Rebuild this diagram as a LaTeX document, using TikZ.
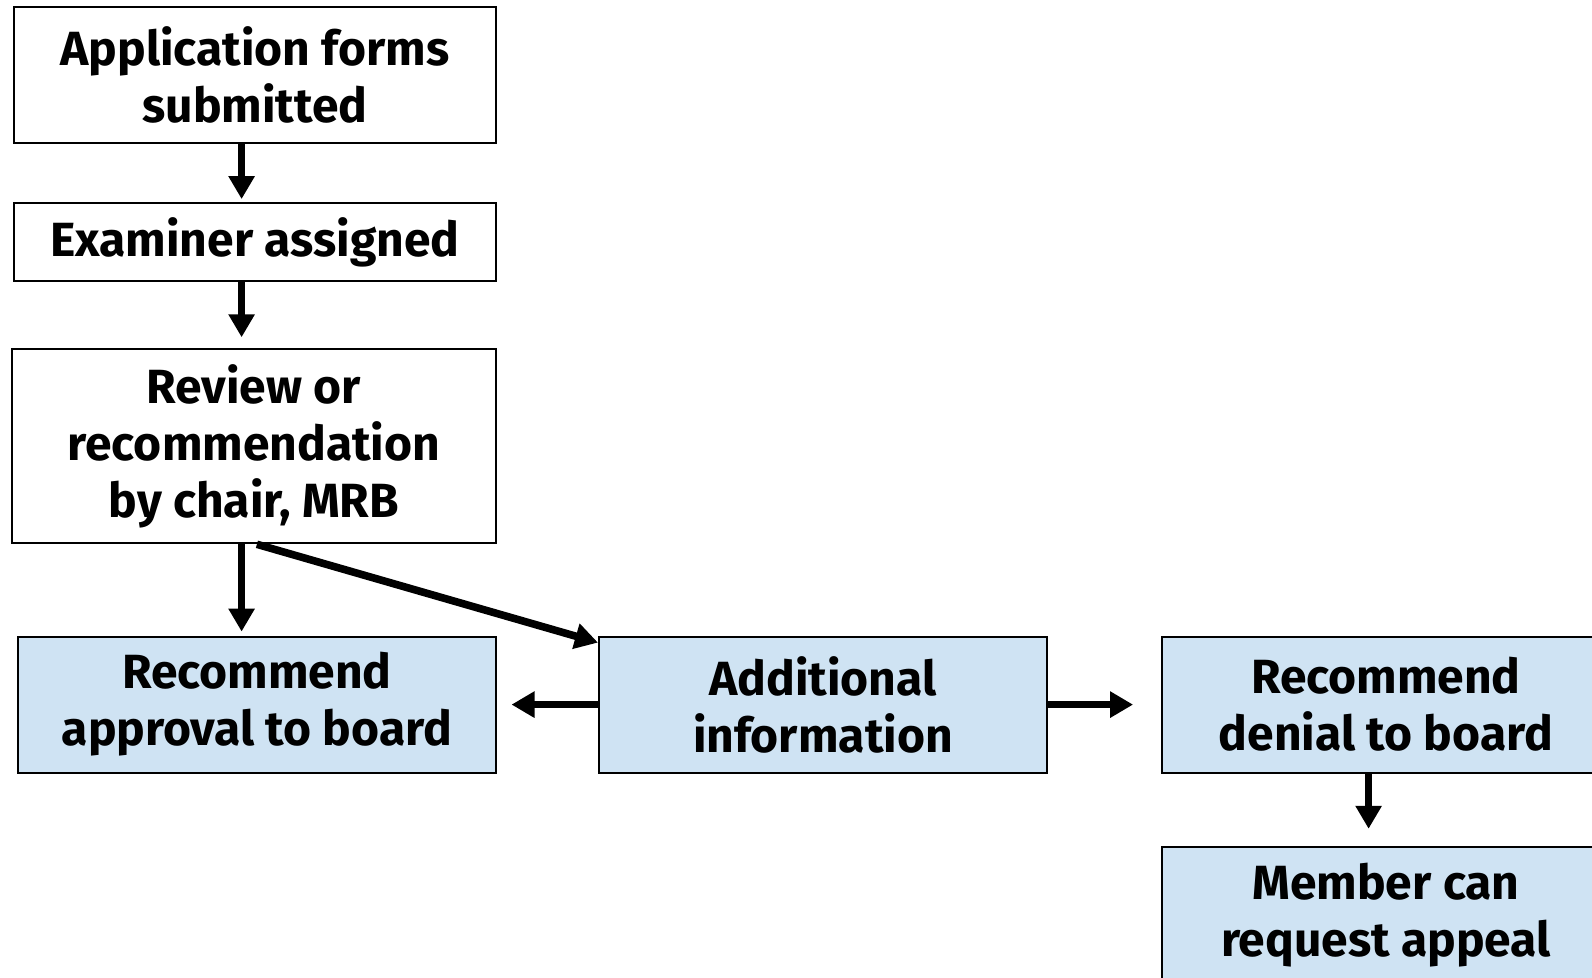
\documentclass[tikz,border=0pt]{standalone}
\usepackage{fontspec}
\setmainfont{Fira Sans}
\usetikzlibrary{arrows.meta}

\definecolor{boxblue}{RGB}{207,227,243}

\tikzset{every picture/.style={line width=0.75pt},
  flowbox/.style={draw=black, line width=1pt, rectangle, inner sep=0pt, align=center,
    font=\bfseries\fontsize{24}{28.5}\selectfont},
  plainbox/.style={flowbox, fill=white},
  bluebox/.style={flowbox, fill=boxblue},
  flowarrow/.style={line width=3.3pt, -{Triangle[width=12.5pt,length=11.5pt]}}
}

\begin{document}
\begin{tikzpicture}[x=0.5pt,y=0.5pt,yscale=-1,xscale=1]
\useasboundingbox (0,0) rectangle (1592,978);
\clip (0,0) rectangle (1592,978);

%Shape: Rectangle [left column]
\node [plainbox, minimum width=240.7pt, minimum height=68pt] (forms) at (255,74.7) {Application forms\\submitted};
\node [plainbox, minimum width=240.7pt, minimum height=38.9pt] (examiner) at (255,242.2) {Examiner assigned};
\node [plainbox, minimum width=241.7pt, minimum height=97pt] (review) at (253.9,446.3) {Review or\\recommendation\\by chair, MRB};

%Shape: Rectangle [blue row]
\node [bluebox, minimum width=238.6pt, minimum height=68pt] (approval) at (256.9,704.6) {Recommend\\approval to board};
\node [bluebox, minimum width=223.9pt, minimum height=68pt] (additional) at (822.9,704.6) {Additional\\information};
\node [bluebox, minimum width=224.5pt, minimum height=68pt] (denial) at (1386,704.6) {Recommend\\denial to board};
\node [bluebox, minimum width=224.5pt, minimum height=68pt] (appeal) at (1386,914.8) {Member can\\request appeal};

\coordinate (col) at (241.6,0);

%Straight Lines
\draw [flowarrow, shorten >=1.6pt] (forms.south -| col) -- (examiner.north -| col);
\draw [flowarrow, shorten >=5.5pt] (examiner.south -| col) -- (review.north -| col);
\draw [flowarrow, shorten >=2pt] (review.south -| col) -- (approval.north -| col);
\draw [flowarrow, line width=3.8pt] ([xshift=1.5pt]review.south) -- ([yshift=3.5pt]additional.north west);
\draw [flowarrow, shorten >=7.5pt] (additional.west) -- (approval.east);
\draw [flowarrow, shorten >=13.7pt] (additional.east) -- (denial.west);
\draw [flowarrow, shorten >=8.5pt] ([xshift=-8.7pt]denial.south) -- ([xshift=-8.7pt]appeal.north);

\end{tikzpicture}
\end{document}
